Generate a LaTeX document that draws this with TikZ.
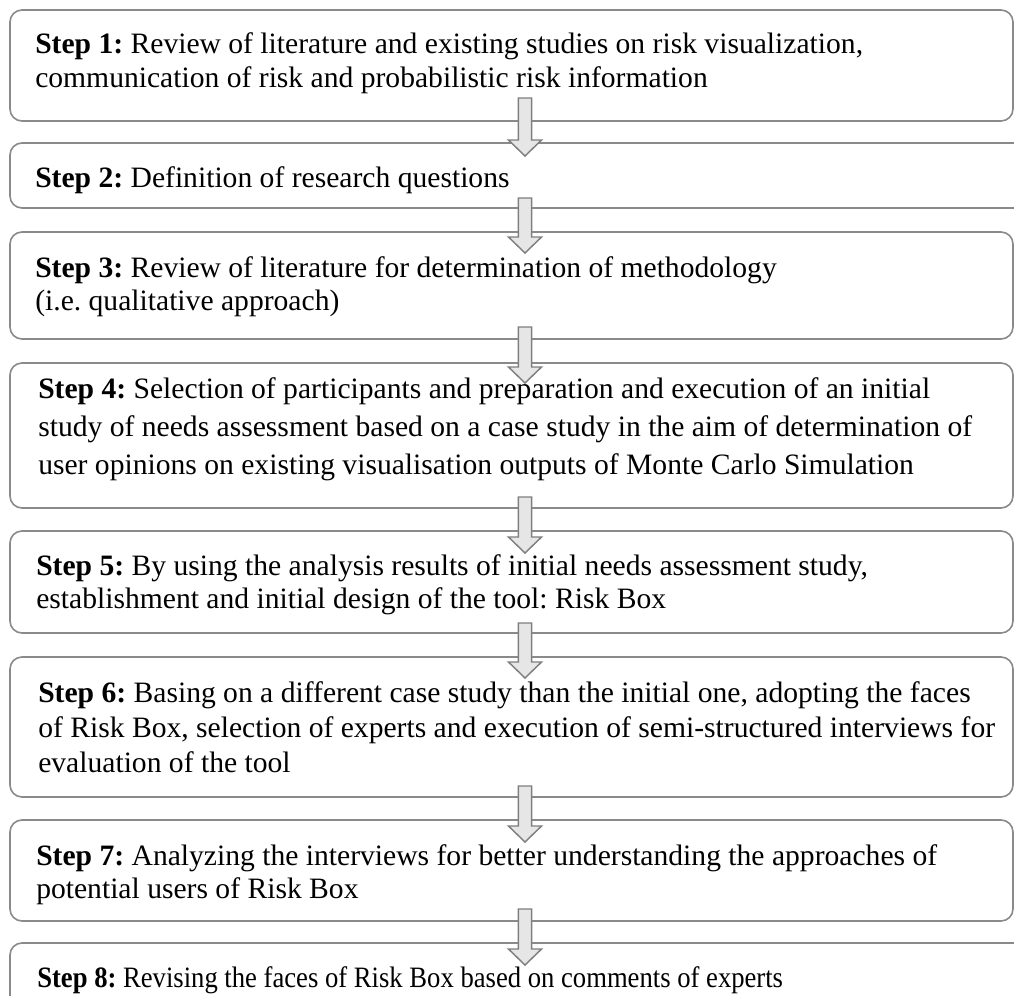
\documentclass[tikz,border=0pt]{standalone}
\usepackage{fontspec}
\setmainfont{Liberation Serif}
\usetikzlibrary{fit,calc}
\frenchspacing
\definecolor{boxline}{HTML}{8A8A8A}
\definecolor{arrline}{HTML}{7F7F7F}
\definecolor{arrfill}{HTML}{E6E6E6}
\tikzset{
  stepbox/.style={draw=boxline, line width=1.2pt, rounded corners=9pt, inner sep=0pt, fill=white},
  txt/.style={anchor=base west, align=left, inner sep=0pt},
  blockarr/.style={draw=arrline, fill=arrfill, line width=1.1pt, line join=miter},
}
\newcommand\barrow[2]{%
  \draw[blockarr] let \p1=(#1), \p2=(#2) in
    (\x1-4.9pt,\y1) -- (\x1+4.9pt,\y1) -- (\x1+4.9pt,\y2+12pt) -- (\x1+12.4pt,\y2+12pt)
    -- (\x1,\y2) -- (\x1-12.4pt,\y2+12pt) -- (\x1-4.9pt,\y2+12pt) -- cycle;}
\begin{document}
\begin{tikzpicture}[x=0.75pt,y=-0.75pt]
\useasboundingbox (0,0) rectangle (1014,996);
\fill[white] (0,0) rectangle (1014,996);
\clip (0,0) rectangle (1014,996);
% boxes
\node[stepbox, fit={(10,10)(1013,121)}] (b1) {};
\node[stepbox, fit={(10,143)(1040,208)}] (b2) {};
\node[stepbox, fit={(10,232)(1013,339)}] (b3) {};
\node[stepbox, fit={(10,363)(1013,508)}] (b4) {};
\node[stepbox, fit={(10,531)(1013,633)}] (b5) {};
\node[stepbox, fit={(10,657)(1013,797)}] (b6) {};
\node[stepbox, fit={(10,820)(1013,921)}] (b7) {};
\node[stepbox, fit={(10,943)(1040,1030)}] (b8) {};
% arrow end points
\coordinate (a1s) at (525,98);  \coordinate (a1e) at (525,156);
\coordinate (a2s) at (525,198); \coordinate (a2e) at (525,253);
\coordinate (a3s) at (525,327); \coordinate (a3e) at (525,383);
\coordinate (a4s) at (525,497); \coordinate (a4e) at (525,553);
\coordinate (a5s) at (525,623); \coordinate (a5e) at (525,678);
\coordinate (a6s) at (525,786); \coordinate (a6e) at (525,842);
\coordinate (a7s) at (525,909); \coordinate (a7e) at (525,965);
\barrow{a1s}{a1e}
\barrow{a2s}{a2e}
\barrow{a3s}{a3e}
\barrow{a4s}{a4e}
\barrow{a5s}{a5e}
\barrow{a6s}{a6e}
\barrow{a7s}{a7e}
% texts (anchored at the baseline of the last line)
\node[txt, font=\fontsize{22.2}{25.5}\selectfont] (t1) at (35,87)
  {\textbf{Step 1:} Review of literature and existing studies on risk visualization,\\
   communication of risk and probabilistic risk information};
\node[txt, font=\fontsize{22.2}{25.5}\selectfont] (t2) at (35,187)
  {\textbf{Step 2:} Definition of research questions};
\node[txt, font=\fontsize{22.2}{24.75}\selectfont] (t3) at (35,310)
  {\textbf{Step 3:} Review of literature for determination of methodology\\
   (i.e. qualitative approach)};
\node[txt, font=\fontsize{22.2}{28.5}\selectfont] (t4) at (38,474)
  {\textbf{Step 4:} Selection of participants and preparation and execution of an initial\\
   study of needs assessment based on a case study in the aim of determination of\\
   user opinions on existing visualisation outputs of Monte Carlo Simulation};
\node[txt, font=\fontsize{22.2}{24.4}\selectfont] (t5) at (36,608)
  {\textbf{Step 5:} By using the analysis results of initial needs assessment study,\\
   establishment and initial design of the tool: Risk Box};
\node[txt, font=\fontsize{22.2}{26.25}\selectfont] (t6) at (38,772)
  {\textbf{Step 6:} Basing on a different case study than the initial one, adopting the faces\\
   of Risk Box, selection of experts and execution of semi-structured interviews for\\
   evaluation of the tool};
\node[txt, font=\fontsize{22.2}{24.75}\selectfont] (t7) at (36,898)
  {\textbf{Step 7:} Analyzing the interviews for better understanding the approaches of\\
   potential users of Risk Box};
\node[txt, font=\fontsize{22.2}{25}\selectfont] (t8) at (37,987)
  {\scalebox{0.9}[1]{\textbf{Step 8:} Revising the faces of Risk Box based on comments of experts}};
\end{tikzpicture}
\end{document}
